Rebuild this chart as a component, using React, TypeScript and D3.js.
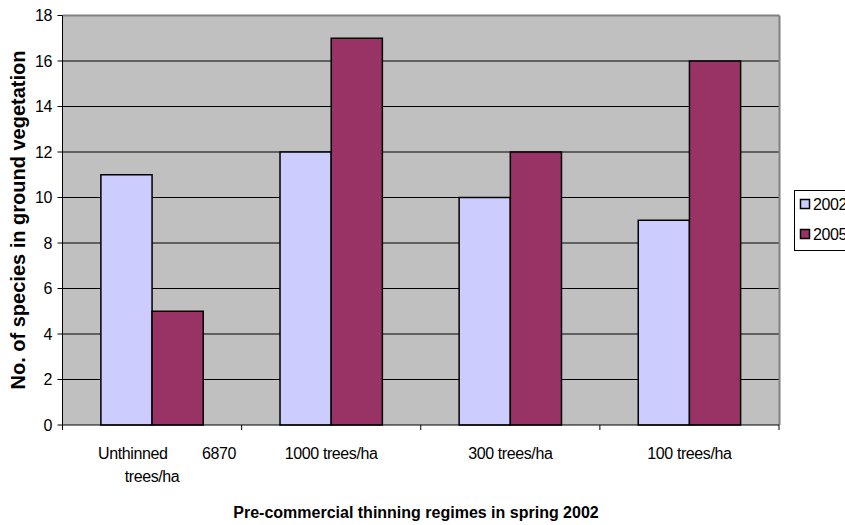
import React from "react";
import * as d3 from "d3";

const categories = ["Unthinned 6870 trees/ha", "1000 trees/ha", "300 trees/ha", "100 trees/ha"];
const series2002 = [11, 12, 10, 9];
const series2005 = [5, 17, 12, 16];
const seriesNames = ["2002", "2005"];
const yTicks = [0, 2, 4, 6, 8, 10, 12, 14, 16, 18];

const W = 845, H = 525;
const left = 62.5, right = 779, top = 15.5, bottom = 425;
const colors = ["#CCCCFF", "#993366"];
const FONT = "'Liberation Sans', Arial, sans-serif";

export default function App() {
  const x = d3.scaleBand<string>().domain(categories).range([left, right]).paddingInner(0).paddingOuter(0);
  const y = d3.scaleLinear().domain([0, 18]).range([bottom, top]);
  const bw = x.bandwidth();
  const barW = bw / 3.5;
  const gap = bw * 0.75 / 3.5;
  const data = [series2002, series2005];

  return (
    <svg width={W} height={H} style={{ position: "absolute", left: 0, top: 0, background: "#fff" }} fontFamily={FONT}>
      <rect x={left} y={top} width={right - left} height={bottom - top} fill="#C0C0C0" />
      {yTicks.filter(t => t > 0 && t < 18).map(t => (
        <line key={t} x1={left} x2={right} y1={y(t)} y2={y(t)} stroke="#000" strokeWidth={1} />
      ))}
      <line x1={left} x2={right + 0.5} y1={top} y2={top} stroke="#808080" strokeWidth={2} />
      <line x1={right + 0.5} x2={right + 0.5} y1={top} y2={bottom} stroke="#808080" strokeWidth={2} />
      {categories.map((c, i) => data.map((s, k) => {
        const x0 = (x(c) as number) + gap + k * barW;
        return (
          <rect key={c + k} x={x0} y={y(s[i])} width={barW} height={bottom - y(s[i])}
            fill={colors[k]} stroke="#000" strokeWidth={1.5} />
        );
      }))}
      <line x1={left} x2={left} y1={top} y2={bottom} stroke="#000" strokeWidth={1} />
      <line x1={left} x2={right} y1={bottom} y2={bottom} stroke="#000" strokeWidth={1} />
      {yTicks.map(t => (
        <g key={t}>
          <line x1={left - 5} x2={left} y1={y(t)} y2={y(t)} stroke="#000" />
          <text x={52} y={y(t) + 5.5} textAnchor="end" fontSize={16} letterSpacing={-0.4}>{t}</text>
        </g>
      ))}
      {[...categories.map(c => x(c) as number), right].map((v, i) => (
        <line key={i} x1={v} x2={v} y1={bottom} y2={bottom + 5} stroke="#000" />
      ))}
      {categories.map((c, i) => {
        const cx = (x(c) as number) + bw / 2;
        if (i === 0) {
          return (
            <g key={c}>
              <text x={cx - 54} y={459} fontSize={16} letterSpacing={-0.4}>Unthinned</text>
              <text x={cx + 50} y={459} fontSize={16} letterSpacing={-0.4}>6870</text>
              <text x={cx} y={482} textAnchor="middle" fontSize={16} letterSpacing={-0.4}>trees/ha</text>
            </g>
          );
        }
        return <text key={c} x={cx} y={459} textAnchor="middle" fontSize={16} letterSpacing={-0.4}>{c}</text>;
      })}
      <text x={416} y={518} textAnchor="middle" fontSize={16} fontWeight="bold">Pre-commercial thinning regimes in spring 2002</text>
      <text transform={`translate(25,220) rotate(-90)`} textAnchor="middle" fontSize={20} fontWeight="bold">No. of species in ground vegetation</text>
      <rect x={794.5} y={190.5} width={60} height={60} fill="#fff" stroke="#000" strokeWidth={1} />
      {seriesNames.map((n, k) => (
        <g key={n}>
          <rect x={800.5} y={199.5 + k * 30} width={9} height={9} fill={colors[k]} stroke="#000" strokeWidth={1.5} />
          <text x={813} y={210 + k * 30} fontSize={16} letterSpacing={-0.4}>{n}</text>
        </g>
      ))}
    </svg>
  );
}
